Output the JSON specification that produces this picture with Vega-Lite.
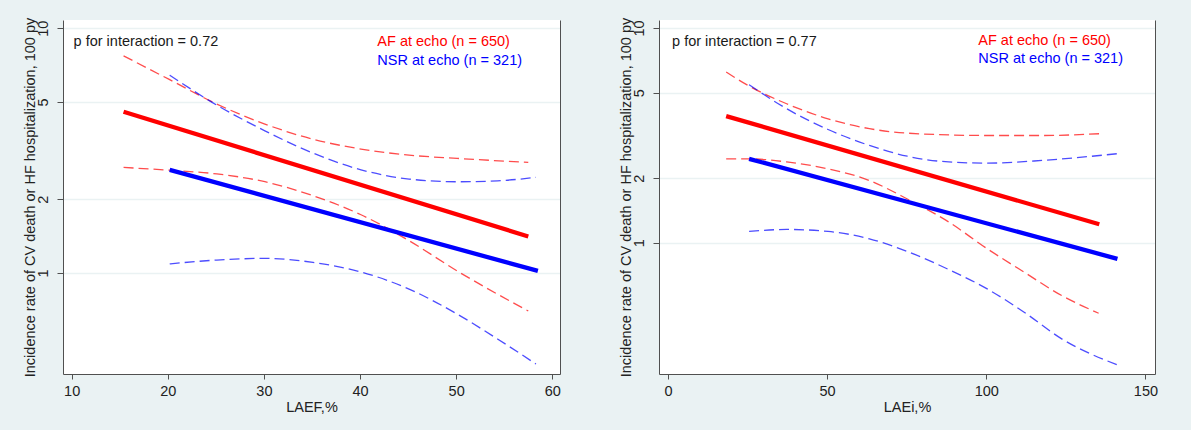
{
  "$schema": "https://vega.github.io/schema/vega-lite/v6.json",
  "background": "#EAF2F3",
  "padding": {"left": 22, "top": 17, "right": 34, "bottom": 16},
  "spacing": 99,
  "bounds": "flush",
  "config": {
    "font": "Liberation Sans",
    "view": {"stroke": null, "fill": "white"},
    "axis": {
      "domainColor": "#505050",
      "tickColor": "#505050",
      "labelColor": "#222222",
      "titleColor": "#222222",
      "labelFont": "Liberation Sans",
      "titleFont": "Liberation Sans",
      "labelFontSize": 14.5,
      "titleFontSize": 14.5,
      "titleFontWeight": "normal",
      "gridColor": "#EAF2F3",
      "gridWidth": 1.5,
      "labelFlush": false
    },
    "axisX": {"tickSize": 5, "labelPadding": 5, "titlePadding": 3, "grid": false}
  },
  "datasets": {
    "laef": [
      {"laef": 15.4, "rate": 4.56, "group": "AF", "band": "fit"},
      {"laef": 57.5, "rate": 1.41, "group": "AF", "band": "fit"},
      {"laef": 15.4, "rate": 7.71, "group": "AF", "band": "upper"},
      {"laef": 20.1, "rate": 6.19, "group": "AF", "band": "upper"},
      {"laef": 25.1, "rate": 4.90, "group": "AF", "band": "upper"},
      {"laef": 30.1, "rate": 4.06, "group": "AF", "band": "upper"},
      {"laef": 35.1, "rate": 3.52, "group": "AF", "band": "upper"},
      {"laef": 40.1, "rate": 3.21, "group": "AF", "band": "upper"},
      {"laef": 45.1, "rate": 3.03, "group": "AF", "band": "upper"},
      {"laef": 50.1, "rate": 2.94, "group": "AF", "band": "upper"},
      {"laef": 57.5, "rate": 2.83, "group": "AF", "band": "upper"},
      {"laef": 15.4, "rate": 2.70, "group": "AF", "band": "lower"},
      {"laef": 20.1, "rate": 2.63, "group": "AF", "band": "lower"},
      {"laef": 25.1, "rate": 2.54, "group": "AF", "band": "lower"},
      {"laef": 30.1, "rate": 2.36, "group": "AF", "band": "lower"},
      {"laef": 35.1, "rate": 2.07, "group": "AF", "band": "lower"},
      {"laef": 40.1, "rate": 1.73, "group": "AF", "band": "lower"},
      {"laef": 45.1, "rate": 1.355, "group": "AF", "band": "lower"},
      {"laef": 50.1, "rate": 1.02, "group": "AF", "band": "lower"},
      {"laef": 57.5, "rate": 0.70, "group": "AF", "band": "lower"},
      {"laef": 20.2, "rate": 2.64, "group": "NSR", "band": "fit"},
      {"laef": 58.5, "rate": 1.02, "group": "NSR", "band": "fit"},
      {"laef": 20.2, "rate": 6.43, "group": "NSR", "band": "upper"},
      {"laef": 25.1, "rate": 4.85, "group": "NSR", "band": "upper"},
      {"laef": 30.1, "rate": 3.81, "group": "NSR", "band": "upper"},
      {"laef": 35.1, "rate": 3.09, "group": "NSR", "band": "upper"},
      {"laef": 40.1, "rate": 2.64, "group": "NSR", "band": "upper"},
      {"laef": 45.1, "rate": 2.42, "group": "NSR", "band": "upper"},
      {"laef": 50.1, "rate": 2.36, "group": "NSR", "band": "upper"},
      {"laef": 54.3, "rate": 2.38, "group": "NSR", "band": "upper"},
      {"laef": 58.3, "rate": 2.46, "group": "NSR", "band": "upper"},
      {"laef": 20.2, "rate": 1.09, "group": "NSR", "band": "lower"},
      {"laef": 25.1, "rate": 1.13, "group": "NSR", "band": "lower"},
      {"laef": 30.1, "rate": 1.148, "group": "NSR", "band": "lower"},
      {"laef": 35.1, "rate": 1.105, "group": "NSR", "band": "lower"},
      {"laef": 40.1, "rate": 1.01, "group": "NSR", "band": "lower"},
      {"laef": 45.1, "rate": 0.86, "group": "NSR", "band": "lower"},
      {"laef": 50.1, "rate": 0.68, "group": "NSR", "band": "lower"},
      {"laef": 54.3, "rate": 0.538, "group": "NSR", "band": "lower"},
      {"laef": 58.3, "rate": 0.425, "group": "NSR", "band": "lower"}
    ],
    "laei": [
      {"laei": 18.3, "rate": 3.89, "group": "AF", "band": "fit"},
      {"laei": 135.5, "rate": 1.22, "group": "AF", "band": "fit"},
      {"laei": 18.3, "rate": 6.24, "group": "AF", "band": "upper"},
      {"laei": 25.5, "rate": 5.37, "group": "AF", "band": "upper"},
      {"laei": 37.3, "rate": 4.44, "group": "AF", "band": "upper"},
      {"laei": 50.3, "rate": 3.78, "group": "AF", "band": "upper"},
      {"laei": 63.3, "rate": 3.40, "group": "AF", "band": "upper"},
      {"laei": 75.2, "rate": 3.24, "group": "AF", "band": "upper"},
      {"laei": 100.3, "rate": 3.16, "group": "AF", "band": "upper"},
      {"laei": 117.8, "rate": 3.16, "group": "AF", "band": "upper"},
      {"laei": 135.5, "rate": 3.22, "group": "AF", "band": "upper"},
      {"laei": 18.3, "rate": 2.46, "group": "AF", "band": "lower"},
      {"laei": 25.5, "rate": 2.46, "group": "AF", "band": "lower"},
      {"laei": 37.3, "rate": 2.38, "group": "AF", "band": "lower"},
      {"laei": 50.3, "rate": 2.21, "group": "AF", "band": "lower"},
      {"laei": 63.3, "rate": 1.95, "group": "AF", "band": "lower"},
      {"laei": 75.2, "rate": 1.60, "group": "AF", "band": "lower"},
      {"laei": 88.2, "rate": 1.25, "group": "AF", "band": "lower"},
      {"laei": 100.3, "rate": 0.938, "group": "AF", "band": "lower"},
      {"laei": 111.9, "rate": 0.73, "group": "AF", "band": "lower"},
      {"laei": 123.7, "rate": 0.568, "group": "AF", "band": "lower"},
      {"laei": 135.3, "rate": 0.47, "group": "AF", "band": "lower"},
      {"laei": 25.5, "rate": 2.46, "group": "NSR", "band": "fit"},
      {"laei": 141.2, "rate": 0.842, "group": "NSR", "band": "fit"},
      {"laei": 25.5, "rate": 5.45, "group": "NSR", "band": "upper"},
      {"laei": 37.3, "rate": 4.21, "group": "NSR", "band": "upper"},
      {"laei": 50.3, "rate": 3.37, "group": "NSR", "band": "upper"},
      {"laei": 63.3, "rate": 2.84, "group": "NSR", "band": "upper"},
      {"laei": 75.2, "rate": 2.53, "group": "NSR", "band": "upper"},
      {"laei": 88.2, "rate": 2.38, "group": "NSR", "band": "upper"},
      {"laei": 100.3, "rate": 2.35, "group": "NSR", "band": "upper"},
      {"laei": 117.8, "rate": 2.42, "group": "NSR", "band": "upper"},
      {"laei": 141.2, "rate": 2.60, "group": "NSR", "band": "upper"},
      {"laei": 25.5, "rate": 1.13, "group": "NSR", "band": "lower"},
      {"laei": 37.3, "rate": 1.154, "group": "NSR", "band": "lower"},
      {"laei": 50.3, "rate": 1.13, "group": "NSR", "band": "lower"},
      {"laei": 63.3, "rate": 1.044, "group": "NSR", "band": "lower"},
      {"laei": 75.2, "rate": 0.911, "group": "NSR", "band": "lower"},
      {"laei": 88.2, "rate": 0.751, "group": "NSR", "band": "lower"},
      {"laei": 100.3, "rate": 0.61, "group": "NSR", "band": "lower"},
      {"laei": 111.9, "rate": 0.475, "group": "NSR", "band": "lower"},
      {"laei": 123.7, "rate": 0.357, "group": "NSR", "band": "lower"},
      {"laei": 141.2, "rate": 0.270, "group": "NSR", "band": "lower"}
    ]
  },
  "hconcat": [
    {
      "width": 497,
      "height": 354,
      "resolve": {"axis": {"y": "independent"}},
      "layer": [
        {
          "data": {"name": "laef"},
          "transform": [{"filter": "datum.band != 'fit'"}],
          "mark": {"type": "line", "strokeWidth": 1.3, "strokeDash": [10, 5], "opacity": 0.7, "interpolate": "monotone"},
          "encoding": {
            "x": {"field": "laef", "type": "quantitative", "scale": {"domain": [9.1, 60.8], "nice": false, "zero": false},
                  "axis": {"values": [10, 20, 30, 40, 50, 60], "title": "LAEF,%"}},
            "y": {"field": "rate", "type": "quantitative", "scale": {"type": "log", "domain": [0.387, 10.8], "nice": false},
                  "axis": {"orient": "right", "labels": false, "ticks": false, "grid": false, "title": null}},
            "color": {"field": "group", "type": "nominal", "scale": {"domain": ["AF", "NSR"], "range": ["#ff0000", "#0000ff"]}, "legend": null},
            "detail": {"field": "band"}
          }
        },
        {
          "data": {"name": "laef"},
          "transform": [{"filter": "datum.band == 'fit'"}],
          "mark": {"type": "line", "strokeWidth": 4.3},
          "encoding": {
            "x": {"field": "laef", "type": "quantitative", "scale": {"domain": [9.1, 60.8], "nice": false, "zero": false},
                  "axis": {"values": [10, 20, 30, 40, 50, 60], "title": "LAEF,%"}},
            "y": {"field": "rate", "type": "quantitative", "scale": {"type": "log", "domain": [0.387, 10.8], "nice": false},
                  "axis": {"values": [1, 2, 5, 10], "format": "~g", "title": "Incidence rate of CV death or HF hospitalization, 100 py",
                           "labelAngle": -90, "labelAlign": "center", "labelBaseline": "bottom", "labelPadding": 7, "tickSize": 6, "titlePadding": -2, "grid": true}},
            "color": {"field": "group", "type": "nominal", "scale": {"domain": ["AF", "NSR"], "range": ["#ff0000", "#0000ff"]}, "legend": null}
          }
        },
        {
          "data": {"values": [{"label": "p for interaction = 0.72"}]},
          "mark": {"type": "text", "align": "left", "baseline": "alphabetic", "fontSize": 14.5, "color": "#1a1a1a"},
          "encoding": {
            "x": {"datum": 10.2, "type": "quantitative", "scale": {"domain": [9.1, 60.8], "nice": false, "zero": false},
                  "axis": {"values": [10, 20, 30, 40, 50, 60], "title": "LAEF,%"}},
            "y": {"datum": 8.48, "type": "quantitative", "axis": null},
            "text": {"field": "label"}
          }
        },
        {
          "data": {"values": [{"label": "AF at echo (n = 650)"}]},
          "mark": {"type": "text", "align": "left", "baseline": "alphabetic", "fontSize": 14.5, "color": "#ff0000"},
          "encoding": {
            "x": {"datum": 41.8, "type": "quantitative", "scale": {"domain": [9.1, 60.8], "nice": false, "zero": false},
                  "axis": {"values": [10, 20, 30, 40, 50, 60], "title": "LAEF,%"}},
            "y": {"datum": 8.48, "type": "quantitative", "axis": null},
            "text": {"field": "label"}
          }
        },
        {
          "data": {"values": [{"label": "NSR at echo (n = 321)"}]},
          "mark": {"type": "text", "align": "left", "baseline": "alphabetic", "fontSize": 14.5, "color": "#0000ff"},
          "encoding": {
            "x": {"datum": 41.8, "type": "quantitative", "scale": {"domain": [9.1, 60.8], "nice": false, "zero": false},
                  "axis": {"values": [10, 20, 30, 40, 50, 60], "title": "LAEF,%"}},
            "y": {"datum": 7.06, "type": "quantitative", "axis": null},
            "text": {"field": "label"}
          }
        }
      ]
    },
    {
      "width": 496,
      "height": 354,
      "resolve": {"axis": {"y": "independent"}},
      "layer": [
        {
          "data": {"name": "laei"},
          "transform": [{"filter": "datum.band != 'fit'"}],
          "mark": {"type": "line", "strokeWidth": 1.3, "strokeDash": [10, 5], "opacity": 0.7, "interpolate": "monotone"},
          "encoding": {
            "x": {"field": "laei", "type": "quantitative", "scale": {"domain": [-2.8, 153], "nice": false, "zero": false},
                  "axis": {"values": [0, 50, 100, 150], "title": "LAEi,%"}},
            "y": {"field": "rate", "type": "quantitative", "scale": {"type": "log", "domain": [0.245, 10.9], "nice": false},
                  "axis": {"orient": "right", "labels": false, "ticks": false, "grid": false, "title": null}},
            "color": {"field": "group", "type": "nominal", "scale": {"domain": ["AF", "NSR"], "range": ["#ff0000", "#0000ff"]}, "legend": null},
            "detail": {"field": "band"}
          }
        },
        {
          "data": {"name": "laei"},
          "transform": [{"filter": "datum.band == 'fit'"}],
          "mark": {"type": "line", "strokeWidth": 4.3},
          "encoding": {
            "x": {"field": "laei", "type": "quantitative", "scale": {"domain": [-2.8, 153], "nice": false, "zero": false},
                  "axis": {"values": [0, 50, 100, 150], "title": "LAEi,%"}},
            "y": {"field": "rate", "type": "quantitative", "scale": {"type": "log", "domain": [0.245, 10.9], "nice": false},
                  "axis": {"values": [1, 2, 5, 10], "format": "~g", "title": "Incidence rate of CV death or HF hospitalization, 100 py",
                           "labelAngle": -90, "labelAlign": "center", "labelBaseline": "bottom", "labelPadding": 7, "tickSize": 6, "titlePadding": -2, "grid": true}},
            "color": {"field": "group", "type": "nominal", "scale": {"domain": ["AF", "NSR"], "range": ["#ff0000", "#0000ff"]}, "legend": null}
          }
        },
        {
          "data": {"values": [{"label": "p for interaction = 0.77"}]},
          "mark": {"type": "text", "align": "left", "baseline": "alphabetic", "fontSize": 14.5, "color": "#1a1a1a"},
          "encoding": {
            "x": {"datum": 1.3, "type": "quantitative", "scale": {"domain": [-2.8, 153], "nice": false, "zero": false},
                  "axis": {"values": [0, 50, 100, 150], "title": "LAEi,%"}},
            "y": {"datum": 8.29, "type": "quantitative", "axis": null},
            "text": {"field": "label"}
          }
        },
        {
          "data": {"values": [{"label": "AF at echo (n = 650)"}]},
          "mark": {"type": "text", "align": "left", "baseline": "alphabetic", "fontSize": 14.5, "color": "#ff0000"},
          "encoding": {
            "x": {"datum": 97.5, "type": "quantitative", "scale": {"domain": [-2.8, 153], "nice": false, "zero": false},
                  "axis": {"values": [0, 50, 100, 150], "title": "LAEi,%"}},
            "y": {"datum": 8.38, "type": "quantitative", "axis": null},
            "text": {"field": "label"}
          }
        },
        {
          "data": {"values": [{"label": "NSR at echo (n = 321)"}]},
          "mark": {"type": "text", "align": "left", "baseline": "alphabetic", "fontSize": 14.5, "color": "#0000ff"},
          "encoding": {
            "x": {"datum": 97.5, "type": "quantitative", "scale": {"domain": [-2.8, 153], "nice": false, "zero": false},
                  "axis": {"values": [0, 50, 100, 150], "title": "LAEi,%"}},
            "y": {"datum": 6.88, "type": "quantitative", "axis": null},
            "text": {"field": "label"}
          }
        }
      ]
    }
  ]
}
